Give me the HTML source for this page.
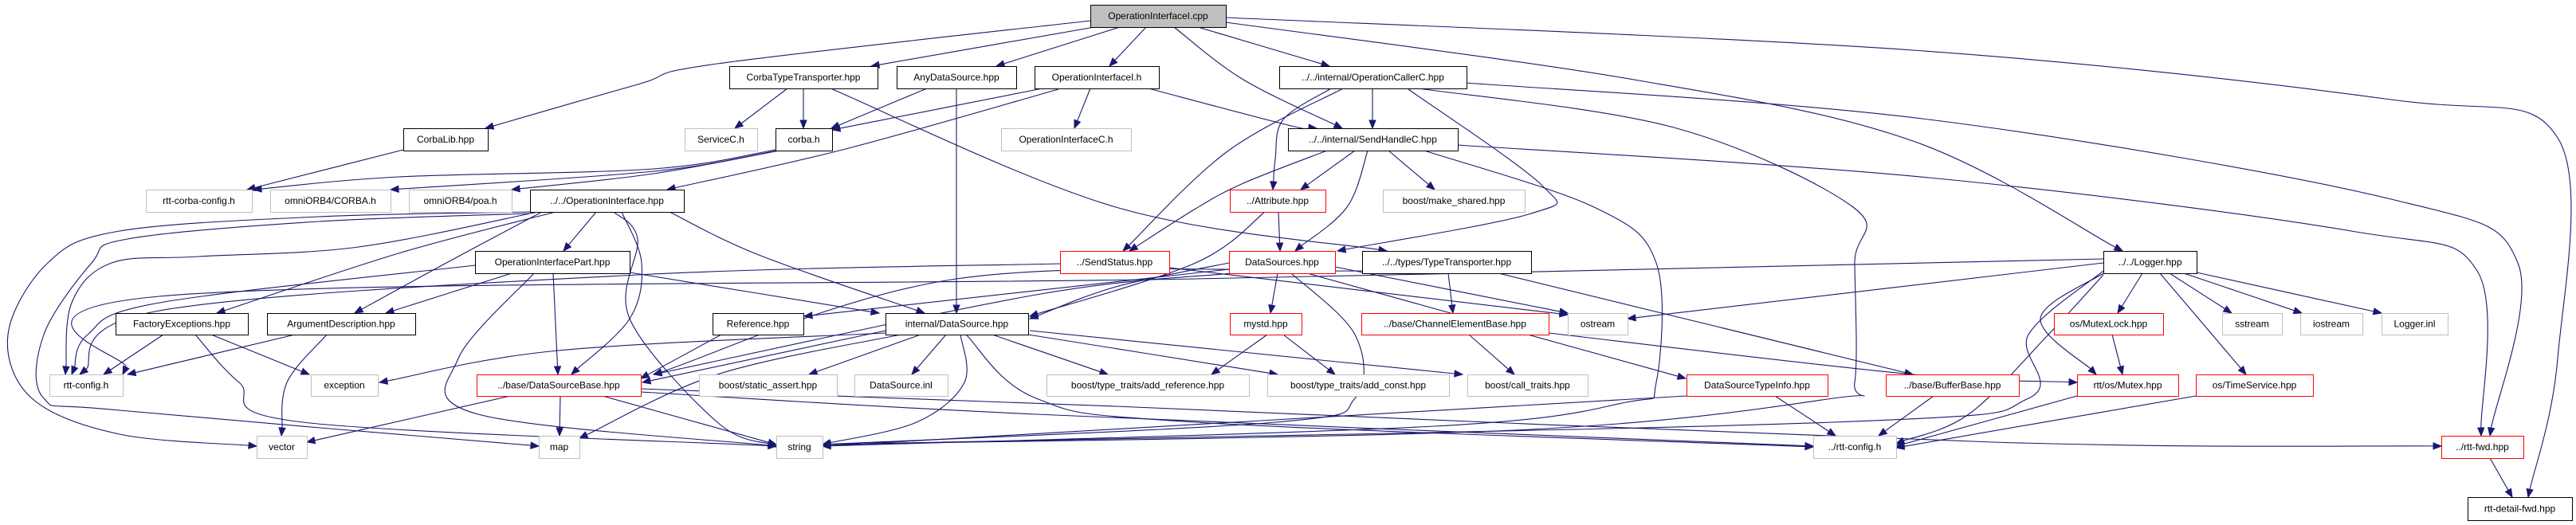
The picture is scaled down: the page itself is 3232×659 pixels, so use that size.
<!DOCTYPE html>
<html><head><meta charset="utf-8"><style>
html,body{margin:0;padding:0;background:#fff;width:3232px;height:659px;overflow:hidden}
svg{display:block}
text{font-family:"Liberation Sans",sans-serif;font-size:12px;fill:#000}
</style></head><body>
<svg id="g" width="3232" height="659" xmlns="http://www.w3.org/2000/svg"></svg>
<script>
var N={
cpp:[1368,1538,6,34,"OperationInterfaceI.cpp","k","#bfbfbf"],
CorbaLib:[506,612,161,189,"CorbaLib.hpp","k"],
rcc:[183,316,238,266,"rtt-corba-config.h","g"],
CORBA:[339,490,238,266,"omniORB4/CORBA.h","g"],
poa:[513,642,238,266,"omniORB4/poa.h","g"],
OI:[665,858,238,266,"../../OperationInterface.hpp","k"],
OIP:[596,790,315,343,"OperationInterfacePart.hpp","k"],
CTT:[915,1101,83,111,"CorbaTypeTransporter.hpp","k"],
ADS:[1125,1275,83,111,"AnyDataSource.hpp","k"],
OIh:[1298,1454,83,111,"OperationInterfaceI.h","k"],
OCC:[1605,1840,83,111,"../../internal/OperationCallerC.hpp","k"],
ServiceC:[859,950,161,189,"ServiceC.h","g"],
corba:[973,1044,161,189,"corba.h","k"],
OIC:[1256,1419,161,189,"OperationInterfaceC.h","g"],
SHC:[1616,1829,161,189,"../../internal/SendHandleC.hpp","k"],
Attr:[1543,1663,238,266,"../Attribute.hpp","r"],
mk:[1735,1913,238,266,"boost/make_shared.hpp","g"],
SS:[1330,1467,315,343,"../SendStatus.hpp","r"],
DSs:[1542,1675,315,343,"DataSources.hpp","r"],
TT:[1709,1921,315,343,"../../types/TypeTransporter.hpp","k"],
Log:[2639,2756,315,343,"../../Logger.hpp","k"],
FE:[145,311,393,420,"FactoryExceptions.hpp","k"],
AD:[335,521,393,420,"ArgumentDescription.hpp","k"],
Ref:[894,1008,393,420,"Reference.hpp","k"],
IDS:[1111,1290,393,420,"internal/DataSource.hpp","k"],
mystd:[1543,1633,393,420,"mystd.hpp","r"],
CEB:[1708,1943,393,420,"../base/ChannelElementBase.hpp","r"],
ostream:[1967,2042,393,420,"ostream","g"],
ML:[2577,2714,393,420,"os/MutexLock.hpp","r"],
sstream:[2788,2863,393,420,"sstream","g"],
iostream:[2886,2964,393,420,"iostream","g"],
Linl:[2988,3071,393,420,"Logger.inl","g"],
rc:[62,154,470,497,"rtt-config.h","g"],
exc:[390,474,470,497,"exception","g"],
DSB:[598,804,470,497,"../base/DataSourceBase.hpp","r"],
sa:[877,1050,470,497,"boost/static_assert.hpp","g"],
inl:[1072,1189,470,497,"DataSource.inl","g"],
addref:[1313,1567,470,497,"boost/type_traits/add_reference.hpp","g"],
addc:[1590,1818,470,497,"boost/type_traits/add_const.hpp","g"],
ct:[1841,1992,470,497,"boost/call_traits.hpp","g"],
DSTI:[2116,2293,470,497,"DataSourceTypeInfo.hpp","r"],
BB:[2366,2533,470,497,"../base/BufferBase.hpp","r"],
Mutex:[2606,2733,470,497,"rtt/os/Mutex.hpp","r"],
TS:[2755,2902,470,497,"os/TimeService.hpp","r"],
vector:[322,385,547,575,"vector","g"],
map:[676,727,547,575,"map","g"],
string:[974,1032,547,575,"string","g"],
rrc:[2275,2379,547,575,"../rtt-config.h","g"],
fwd:[3063,3166,547,575,"../rtt-fwd.hpp","r"],
dfwd:[3096,3227,624,653,"rtt-detail-fwd.hpp","k"]
};
var E=[
[1368,26,900,80,800,106,609,161],
[1373,34,1093,83],[1405,34,1250,83],[1438,34,1392,83],[1503,34,1668,83],
[1473,34,1560,100,1684,161],
[1538,28,2050,100,2400,177,2663,315],
[1538,22,2400,63,3000,125,3209,173,3209,450,3172,624],
[1840,104,2420,150,3000,250,3159,330,3124,547],
[1829,182,2420,223,2950,290,3108,340,3113,547],
[1780,111,2100,160,2325,260,2327,330,2327,480,2300,500,1900,540,1032,558],
[1787,189,2000,260,2078,330,2078,480,2040,505,1800,535,1032,560],
[1722,111,1722,161],
[1670,111,1610,150,1600,200,1597,238],
[1685,111,1540,190,1409,315],
[1767,112,1935,233,1921,268,1678,315],
[1441,111,1620,158,1652,161],
[1700,189,1632,238],
[1665,189,1560,230,1500,262,1417,315],
[1716,189,1690,260,1625,315],
[1742,189,1800,238],
[1604,266,1606,315],
[1587,266,1500,330,1292,397],
[988,111,922,161],[1008,111,1008,161],
[1042,111,1400,260,1740,315],
[1163,111,1043,161],[1200,111,1200,393],
[1308,111,1044,163],
[1328,112,1061,187,837,238],
[1368,111,1348,161],
[973,188,820,212,500,222,318,238],
[975,189,820,215,490,238],
[978,189,820,218,642,238],
[506,188,310,238],
[748,266,707,315],
[697,266,500,318,272,393],
[680,266,560,330,445,393],
[665,266,400,272,150,290,60,330,10,420,40,500,150,545,322,560],
[665,268,400,278,160,300,115,330,55,420,55,500,150,515,676,560],
[675,266,450,310,250,322,140,330,90,380,82,470],
[770,266,800,300,790,400,900,530,974,561],
[780,266,805,330,790,400,717,470],
[840,266,952,320,1160,393],
[642,343,484,393],
[694,343,700,470],
[670,343,575,450,600,520,974,560],
[596,333,200,380,110,420,90,470],
[790,342,1103,393],
[205,420,130,470],[265,420,388,470],
[245,420,300,480,380,530,974,560],
[370,420,160,470],
[410,420,360,480,353,547],
[905,420,804,475],
[1111,415,806,480],
[1155,420,1015,470],[1187,420,1144,470],
[1205,420,1210,480,1150,530,1032,558],
[1245,420,1390,470],[1290,420,1603,470],
[1292,415,1835,470],
[1212,420,1300,500,1500,530,2275,561],
[1111,418,700,440,476,480],
[1130,420,900,470,727,550],
[640,497,385,555],[703,497,702,547],[756,497,974,558],
[804,492,1300,520,2275,560],
[804,488,1400,510,2500,555,3063,560],
[1542,330,1400,360,1292,400],
[1542,338,1009,397],
[1603,343,1594,393],
[1545,343,1300,370,820,470],
[1620,343,1700,420,1700,500,1600,530,1032,558],
[1640,343,2115,475],
[1675,335,1967,393],
[1590,420,1520,470],[1610,420,1675,470],
[1330,331,800,345,200,390,100,470],
[1467,336,1967,395],
[1817,343,1823,393],
[1880,343,2400,470],
[1709,340,1200,350,820,470],
[1843,420,1900,470],
[1943,418,2400,470,2606,480],
[2116,497,1032,560],
[2227,497,2303,547],
[2426,497,2357,547],
[2639,330,2042,400],
[2639,325,1500,350,200,372,154,470],
[2688,343,2657,393],
[2639,343,2560,400,2630,470],
[2710,343,2818,470],
[2722,343,2800,393],[2740,343,2888,393],[2756,342,2988,393],
[2639,340,2545,420,2545,500,2300,530,1032,558],
[2639,345,2570,420,2470,520,2379,557],
[2650,420,2663,470],
[2606,497,2379,560],
[2755,497,2379,562],
[3124,575,3152,624]
];
var s='';
var C="#191970";
E.forEach(function(a){
 var p=[];for(var i=0;i<a.length;i+=2)p.push([a[i],a[i+1]]);
 var n=p.length,d='M'+p[0][0]+','+p[0][1],lastc;
 if(n==2){lastc=p[0];}
 var segs=[];
 for(var i=0;i<n-1;i++){
  var p0=p[i-1]||p[i],p1=p[i],p2=p[i+1],p3=p[i+2]||p[i+1];
  var c1=[p1[0]+(p2[0]-p0[0])/6,p1[1]+(p2[1]-p0[1])/6];
  var c2=[p2[0]-(p3[0]-p1[0])/6,p2[1]-(p3[1]-p1[1])/6];
  segs.push([c1,c2,p2]);
 }
 var L=segs[segs.length-1],tip=L[2],c2=L[1];
 var dx=tip[0]-c2[0],dy=tip[1]-c2[1];
 if(Math.hypot(dx,dy)<1){dx=tip[0]-L[0][0];dy=tip[1]-L[0][1];}
 var l=Math.hypot(dx,dy)||1;dx/=l;dy/=l;
 var b=[tip[0]-dx*10,tip[1]-dy*10];
 L[2]=b;L[1]=[L[1][0]-dx*5,L[1][1]-dy*5];
 segs.forEach(function(q){d+=' C'+q[0][0].toFixed(1)+','+q[0][1].toFixed(1)+' '+q[1][0].toFixed(1)+','+q[1][1].toFixed(1)+' '+q[2][0].toFixed(1)+','+q[2][1].toFixed(1);});
 s+='<path d="'+d+'" fill="none" stroke="'+C+'" stroke-width="1.1"/>';
 var px=-dy*4,py=dx*4;
 s+='<polygon points="'+tip[0]+','+tip[1]+' '+(b[0]+px)+','+(b[1]+py)+' '+(b[0]-px)+','+(b[1]-py)+'" fill="'+C+'" stroke="'+C+'"/>';
});
for(var k in N){var o=N[k];
 var col=o[5]=="g"?"#bfbfbf":o[5]=="r"?"#ff0000":"#000";
 s+='<rect x="'+(o[0]+0.5)+'" y="'+(o[2]+0.5)+'" width="'+(o[1]-o[0])+'" height="'+(o[3]-o[2])+'" fill="'+(o[6]||"#fff")+'" stroke="'+col+'" stroke-width="1"/>';
 s+='<text x="'+((o[0]+o[1])/2)+'" y="'+((o[2]+o[3])/2+4)+'" text-anchor="middle">'+o[4]+'</text>';
}
document.getElementById('g').innerHTML=s;
</script>
</body></html>
